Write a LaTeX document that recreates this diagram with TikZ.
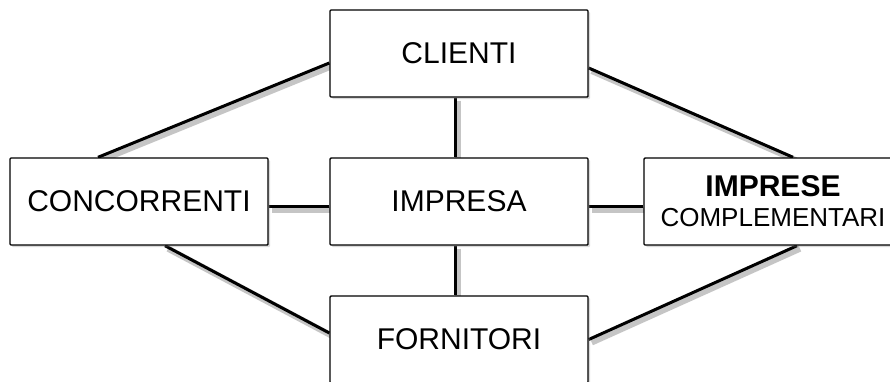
\documentclass[tikz,border=0pt]{standalone}
\usepackage{fontspec}
\setmainfont{Liberation Sans}
\usetikzlibrary{shadows,backgrounds}

\tikzset{
  box/.style={draw, line width=1.4pt, rounded corners=1pt, fill=white,
    minimum width=258pt, minimum height=87pt, inner sep=0pt,
    font=\fontsize{30}{34}\selectfont,
    drop shadow={shadow xshift=2pt, shadow yshift=-2pt, opacity=0.3}},
  link/.style={line width=3pt,
    preaction={draw=black!45, line width=6pt, opacity=0.5,
      transform canvas={shift={(3pt,-3pt)}}}}
}

\begin{document}
\begin{tikzpicture}[x=1pt, y=-1pt]
        \clip (0,0) rectangle (890,381);

        \node[box] (clienti) at (459, 53.5) {CLIENTI};
        \node[box] (impresa) at (459, 201.5) {IMPRESA};
        \node[box] (fornitori) at (459, 339.5) {FORNITORI};
        \node[box] (concorrenti) at (139, 201.5) {CONCORRENTI};
        \node[box, align=center] (imprese) at (773, 201.5)
            {\textbf{IMPRESE}\\[-4pt]{\fontsize{26}{30}\selectfont COMPLEMENTARI}};

        \begin{pgfonlayer}{background}
        \draw[link] ([xshift=-4pt]clienti.south) -- ([xshift=-4pt]impresa.north);
        \draw[link] ([xshift=-4pt]impresa.south) -- ([xshift=-4pt]fornitori.north);
        \draw[link] ([yshift=-5pt]concorrenti.east) -- ([yshift=-5pt]impresa.west);
        \draw[link] ([yshift=-5pt]impresa.east) -- ([yshift=-5pt]imprese.west);

        \draw[link] ([yshift=-9.5pt]clienti.west) -- ([xshift=-41pt]concorrenti.north);
        \draw[link] ([yshift=-14.5pt]clienti.east) -- ([xshift=20pt]imprese.north);
        \draw[link] ([xshift=26pt]concorrenti.south) -- ([yshift=6.5pt]fornitori.west);
        \draw[link] ([xshift=24pt]imprese.south) -- (fornitori.east);
        \end{pgfonlayer}
\end{tikzpicture}
\end{document}
